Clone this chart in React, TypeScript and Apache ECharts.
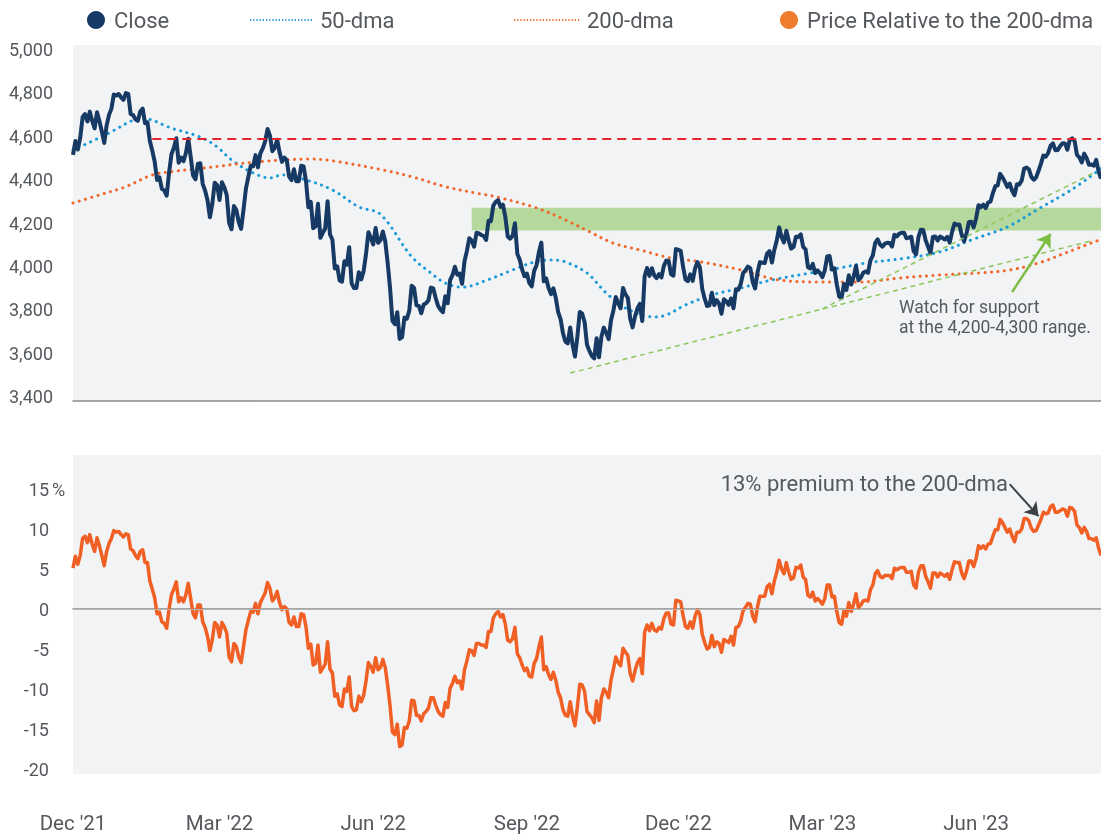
import React, { useEffect, useRef } from "react";
import * as echarts from "echarts";

// ---------- calendar ----------
const HOLIDAYS = [
  "2021-12-24", "2022-01-17", "2022-02-21", "2022-04-15", "2022-05-30", "2022-06-20",
  "2022-07-04", "2022-09-05", "2022-11-24", "2022-12-26", "2023-01-02", "2023-01-16",
  "2023-02-20", "2023-04-07", "2023-05-29", "2023-06-19", "2023-07-04",
];
const LAST_DATE = "2023-08-16";
const MONTHS = [
  "2021-12", "2022-01", "2022-02", "2022-03", "2022-04", "2022-05", "2022-06", "2022-07",
  "2022-08", "2022-09", "2022-10", "2022-11", "2022-12", "2023-01", "2023-02", "2023-03",
  "2023-04", "2023-05", "2023-06", "2023-07", "2023-08",
];
const MONTH_NAMES = ["Jan", "Feb", "Mar", "Apr", "May", "Jun", "Jul", "Aug", "Sep", "Oct", "Nov", "Dec"];
const LABEL_MONTHS = [12, 3, 6, 9];

// ---------- daily close (one array per month, trading days in order) ----------
const close_2021_12 = [4513, 4577, 4538, 4592, 4686, 4701, 4667, 4712, 4669, 4635, 4709, 4669, 4621, 4568, 4649, 4697, 4726, 4791, 4786, 4793, 4778, 4766];
const close_2022_01 = [4797, 4794, 4701, 4696, 4677, 4670, 4713, 4726, 4659, 4663, 4577, 4533, 4483, 4398, 4410, 4357, 4350, 4326, 4432, 4516];
const close_2022_02 = [4546, 4590, 4477, 4501, 4484, 4522, 4587, 4504, 4419, 4401, 4472, 4475, 4380, 4349, 4305, 4226, 4288, 4385, 4374];
const close_2022_03 = [4306, 4387, 4364, 4329, 4201, 4171, 4278, 4260, 4204, 4173, 4262, 4358, 4412, 4463, 4461, 4512, 4456, 4520, 4543, 4575, 4632, 4602, 4530];
const close_2022_04 = [4546, 4583, 4525, 4481, 4501, 4488, 4413, 4397, 4447, 4392, 4392, 4463, 4460, 4394, 4272, 4297, 4176, 4184, 4288, 4132];
const close_2022_05 = [4155, 4175, 4300, 4147, 4123, 3991, 4001, 3936, 3930, 4024, 4008, 4089, 3924, 3901, 3901, 3974, 3941, 3979, 4058, 4158, 4132];
const close_2022_06 = [4101, 4177, 4109, 4121, 4161, 4116, 4018, 3901, 3750, 3735, 3790, 3667, 3675, 3765, 3760, 3796, 3912, 3901, 3822, 3819, 3785];
const close_2022_07 = [3825, 3831, 3845, 3903, 3899, 3855, 3819, 3802, 3790, 3863, 3831, 3937, 3960, 3999, 3962, 3967, 3921, 4024, 4072, 4130];
const close_2022_08 = [4119, 4091, 4155, 4152, 4145, 4140, 4122, 4210, 4208, 4280, 4297, 4305, 4274, 4284, 4228, 4138, 4128, 4141, 4199, 4058, 4031, 3986, 3955];
const close_2022_09 = [3967, 3924, 3909, 3980, 4006, 4067, 4110, 3932, 3946, 3901, 3873, 3900, 3856, 3790, 3758, 3693, 3655, 3647, 3720, 3640, 3586];
const close_2022_10 = [3678, 3791, 3783, 3745, 3640, 3612, 3589, 3577, 3670, 3583, 3677, 3719, 3695, 3666, 3753, 3798, 3860, 3830, 3808, 3901, 3872];
const close_2022_11 = [3856, 3760, 3720, 3771, 3807, 3828, 3749, 3956, 3993, 3957, 3992, 3959, 3947, 3965, 3950, 4003, 4027, 4026, 3964, 3958, 4080];
const close_2022_12 = [4077, 4072, 3999, 3941, 3933, 3964, 3934, 3991, 4020, 3996, 3896, 3852, 3818, 3821, 3879, 3823, 3845, 3829, 3783, 3849, 3840];
const close_2023_01 = [3824, 3853, 3808, 3895, 3893, 3919, 3970, 3983, 3999, 3991, 3929, 3899, 3973, 4020, 4017, 4016, 4060, 4071, 4018, 4077];
const close_2023_02 = [4119, 4180, 4136, 4111, 4164, 4118, 4082, 4090, 4137, 4136, 4148, 4090, 4079, 3997, 3991, 4012, 3970, 3982, 3970];
const close_2023_03 = [3951, 3982, 4046, 4048, 3986, 3992, 3918, 3862, 3855, 3920, 3892, 3960, 3917, 3952, 4003, 3937, 3949, 3971, 3977, 3971, 4028, 4051, 4109];
const close_2023_04 = [4125, 4101, 4091, 4105, 4109, 4108, 4092, 4146, 4138, 4151, 4155, 4155, 4130, 4133, 4137, 4071, 4056, 4135, 4169];
const close_2023_05 = [4168, 4120, 4091, 4061, 4136, 4138, 4119, 4138, 4131, 4124, 4136, 4110, 4159, 4198, 4192, 4193, 4146, 4116, 4151, 4205, 4206, 4180];
const close_2023_06 = [4221, 4282, 4273, 4284, 4268, 4294, 4299, 4338, 4369, 4373, 4426, 4410, 4389, 4366, 4381, 4348, 4328, 4378, 4377, 4396, 4450];
const close_2023_07 = [4455, 4447, 4412, 4399, 4410, 4440, 4473, 4510, 4505, 4522, 4555, 4566, 4535, 4536, 4554, 4567, 4566, 4537, 4582, 4589];
const close_2023_08 = [4577, 4513, 4502, 4478, 4519, 4499, 4468, 4469, 4464, 4490, 4437, 4404];

// ---------- price relative to the 200-dma, % (one array per month) ----------
const rel_2021_12 = [5.1, 6.6, 5.6, 6.7, 8.8, 9.1, 8.3, 9.3, 8.1, 7.2, 8.9, 7.9, 6.7, 5.4, 7.2, 8.2, 8.8, 9.8, 9.6, 9.7, 9.3, 9.0];
const rel_2022_01 = [9.4, 9.3, 7.5, 7.3, 6.7, 6.3, 7.2, 7.4, 5.8, 5.8, 3.5, 2.5, 1.4, -0.6, -0.4, -1.6, -1.8, -2.4, 0.0, 1.8];
const rel_2022_02 = [2.5, 3.4, 0.9, 1.4, 0.9, 1.8, 3.2, 1.3, -0.6, -1.1, 0.5, 0.5, -1.6, -2.3, -3.4, -5.2, -3.8, -1.7, -2.0];
const rel_2022_03 = [-3.5, -1.7, -2.2, -3.0, -6.0, -6.6, -4.3, -4.7, -6.0, -6.7, -4.7, -2.6, -1.4, -0.3, -0.4, 0.7, -0.6, 0.8, 1.4, 2.0, 3.3, 2.6, 1.0];
const rel_2022_04 = [1.4, 2.2, 0.8, -0.1, 0.3, 0.0, -1.7, -2.0, -1.0, -2.2, -2.2, -0.6, -0.7, -2.2, -4.9, -4.4, -7.0, -6.8, -4.5, -7.9];
const rel_2022_05 = [-7.4, -6.9, -4.1, -7.5, -8.0, -10.9, -10.6, -12.0, -12.2, -10.0, -10.3, -8.5, -12.2, -12.7, -12.6, -10.9, -11.6, -10.8, -9.0, -6.7, -7.2];
const rel_2022_06 = [-7.9, -6.1, -7.6, -7.3, -6.3, -7.3, -9.5, -12.1, -15.4, -15.7, -14.4, -17.2, -17.0, -14.8, -14.9, -14.0, -11.4, -11.5, -13.3, -13.3, -14.0];
const rel_2022_07 = [-13.1, -12.8, -12.4, -11.1, -11.1, -12.0, -12.8, -13.2, -13.4, -11.7, -12.3, -9.9, -9.3, -8.4, -9.2, -9.0, -10.0, -7.6, -6.5, -5.1];
const rel_2022_08 = [-5.2, -5.8, -4.3, -4.3, -4.5, -4.5, -4.8, -2.8, -2.8, -1.1, -0.6, -0.3, -1.0, -0.7, -1.9, -3.9, -4.1, -3.7, -2.3, -5.6, -6.1, -7.0, -7.7];
const rel_2022_09 = [-7.4, -8.4, -8.5, -6.8, -6.2, -4.7, -3.5, -7.6, -7.2, -8.2, -8.8, -7.9, -8.9, -10.4, -11.1, -12.6, -13.3, -13.4, -11.6, -13.4, -14.6];
const rel_2022_10 = [-12.2, -9.4, -9.5, -10.3, -12.8, -13.2, -13.6, -14.2, -11.5, -13.9, -11.1, -10.0, -10.4, -11.1, -8.9, -7.5, -6.0, -6.7, -7.1, -4.9, -5.4];
const rel_2022_11 = [-5.8, -8.1, -9.0, -7.7, -6.7, -6.2, -8.1, -2.9, -2.0, -2.7, -1.8, -2.6, -2.8, -2.3, -2.5, -1.2, -0.5, -0.5, -1.9, -2.0, 1.1];
const rel_2022_12 = [1.0, 0.9, -0.8, -2.2, -2.4, -1.6, -2.4, -0.9, -0.1, -0.7, -3.2, -4.2, -5.0, -4.8, -3.3, -4.7, -4.1, -4.3, -5.4, -3.8, -4.0];
const rel_2023_01 = [-4.2, -3.4, -4.5, -2.3, -2.2, -1.5, -0.2, 0.2, 0.7, 0.6, -0.9, -1.6, 0.3, 1.6, 1.6, 1.6, 2.8, 3.1, 1.9, 3.5];
const rel_2023_02 = [4.6, 6.1, 5.0, 4.4, 5.8, 4.6, 3.7, 3.9, 5.2, 5.1, 5.5, 4.0, 3.7, 1.7, 1.5, 2.1, 1.0, 1.3, 1.0];
const rel_2023_03 = [0.6, 1.3, 3.0, 3.0, 1.5, 1.6, -0.3, -1.7, -1.9, -0.2, -0.9, 0.8, -0.3, 0.6, 1.9, 0.2, 0.5, 1.0, 1.1, 1.0, 2.4, 3.0, 4.4];
const rel_2023_04 = [4.8, 4.1, 3.9, 4.2, 4.2, 4.2, 3.8, 5.1, 4.9, 5.1, 5.2, 5.2, 4.6, 4.6, 4.7, 3.0, 2.6, 4.6, 5.4];
const rel_2023_05 = [5.4, 4.1, 3.4, 2.6, 4.5, 4.5, 4.0, 4.5, 4.3, 4.1, 4.4, 3.7, 4.9, 5.9, 5.8, 5.8, 4.5, 3.8, 4.7, 6.0, 6.0, 5.3];
const rel_2023_06 = [6.3, 7.9, 7.6, 7.9, 7.5, 8.1, 8.2, 9.1, 9.9, 9.9, 11.2, 10.8, 10.2, 9.6, 10.0, 9.1, 8.4, 9.6, 9.6, 10.0, 11.3];
const rel_2023_07 = [11.3, 11.0, 10.1, 9.7, 9.8, 10.5, 11.2, 12.1, 11.9, 12.0, 12.8, 13.0, 12.1, 12.1, 12.3, 12.5, 12.4, 11.6, 12.7, 12.6];
const rel_2023_08 = [12.2, 10.5, 10.2, 9.5, 10.2, 9.7, 8.8, 8.8, 8.6, 8.9, 7.6, 6.7];

const CLOSE_BY_MONTH = [
  close_2021_12, close_2022_01, close_2022_02, close_2022_03, close_2022_04, close_2022_05, close_2022_06,
  close_2022_07, close_2022_08, close_2022_09, close_2022_10, close_2022_11, close_2022_12, close_2023_01,
  close_2023_02, close_2023_03, close_2023_04, close_2023_05, close_2023_06, close_2023_07, close_2023_08,
];
const REL_BY_MONTH = [
  rel_2021_12, rel_2022_01, rel_2022_02, rel_2022_03, rel_2022_04, rel_2022_05, rel_2022_06,
  rel_2022_07, rel_2022_08, rel_2022_09, rel_2022_10, rel_2022_11, rel_2022_12, rel_2023_01,
  rel_2023_02, rel_2023_03, rel_2023_04, rel_2023_05, rel_2023_06, rel_2023_07, rel_2023_08,
];

// ---------- moving averages ----------
const DMA50: [string, number][] = [
  ["2021-12-01", 4535], ["2021-12-22", 4614], ["2022-01-06", 4673], ["2022-01-12", 4681],
  ["2022-01-31", 4636], ["2022-02-16", 4595], ["2022-02-28", 4550], ["2022-03-08", 4490],
  ["2022-03-21", 4430], ["2022-03-30", 4407], ["2022-04-06", 4421], ["2022-04-21", 4398],
  ["2022-05-06", 4352], ["2022-05-23", 4274], ["2022-06-06", 4240], ["2022-06-24", 4045],
  ["2022-07-07", 3970], ["2022-07-15", 3924], ["2022-07-26", 3905], ["2022-08-10", 3940],
  ["2022-08-24", 3984], ["2022-09-07", 4020], ["2022-09-19", 4030], ["2022-09-26", 4021],
  ["2022-10-07", 3970], ["2022-10-19", 3878], ["2022-10-31", 3809], ["2022-11-16", 3768],
  ["2022-11-23", 3777], ["2022-12-06", 3823], ["2022-12-21", 3869], ["2023-01-10", 3901],
  ["2023-01-30", 3938], ["2023-02-22", 3970], ["2023-03-10", 3993], ["2023-03-27", 4016],
  ["2023-04-20", 4039], ["2023-05-10", 4067], ["2023-05-30", 4122], ["2023-06-21", 4182],
  ["2023-07-11", 4265], ["2023-07-31", 4355], ["2023-08-16", 4450],
];
const DMA200: [string, number][] = [
  ["2021-12-01", 4292], ["2021-12-16", 4329], ["2022-01-03", 4367], ["2022-01-19", 4421],
  ["2022-01-31", 4436], ["2022-02-16", 4451], ["2022-03-24", 4482], ["2022-04-25", 4494],
  ["2022-05-06", 4486], ["2022-06-06", 4446], ["2022-06-24", 4413], ["2022-07-15", 4367],
  ["2022-08-05", 4333], ["2022-08-15", 4321], ["2022-09-08", 4269], ["2022-09-26", 4214],
  ["2022-10-10", 4160], ["2022-10-24", 4107], ["2022-11-08", 4076], ["2022-11-28", 4039],
  ["2022-12-14", 4022], ["2023-01-10", 3984], ["2023-02-02", 3938], ["2023-02-28", 3929],
  ["2023-03-23", 3929], ["2023-04-17", 3947], ["2023-05-10", 3961], ["2023-06-02", 3970],
  ["2023-06-22", 3984], ["2023-07-11", 4016], ["2023-07-28", 4070], ["2023-08-16", 4125],
];

// ---------- annotations (data units) ----------
const RESISTANCE_LEVEL = 4589;
const RESISTANCE_FROM = "2022-01-19";
const SUPPORT_BAND = { from: "2022-08-01", low: 4165, high: 4270 };
const TREND_LOW: [string, number][] = [["2022-09-28", 3510], ["2023-08-11", 4121]];
const TREND_HIGH: [string, number][] = [["2023-03-01", 3805], ["2023-08-11", 4431]];
const SUPPORT_ARROW: [string, number][] = [["2023-06-23", 3883], ["2023-07-18", 4150]];
const PREMIUM_ARROW: [string, number][] = [["2023-06-22", 15.6], ["2023-07-11", 11.6]];

const PRICE_TICKS = [3400, 3600, 3800, 4000, 4200, 4400, 4600, 4800, 5000];
const REL_TICKS = [-20, -15, -10, -5, 0, 5, 10, 15];

// ---------- build ----------
function tradingDaysOf(month: string): string[] {
  const [y, m] = month.split("-").map(Number);
  const out: string[] = [];
  for (let d = 1; d <= 31; d++) {
    const dt = new Date(Date.UTC(y, m - 1, d));
    if (dt.getUTCMonth() !== m - 1) break;
    const wd = dt.getUTCDay();
    if (wd === 0 || wd === 6) continue;
    const s = dt.toISOString().slice(0, 10);
    if (HOLIDAYS.includes(s)) continue;
    if (s > LAST_DATE) break;
    out.push(s);
  }
  return out;
}

const DATES: string[] = [];
const CLOSE: number[] = [];
const REL: number[] = [];
MONTHS.forEach((mo, k) => {
  const days = tradingDaysOf(mo);
  const c = CLOSE_BY_MONTH[k];
  const r = REL_BY_MONTH[k];
  const n = Math.min(days.length, c.length);
  for (let i = 0; i < n; i++) {
    DATES.push(days[i]);
    CLOSE.push(c[i]);
    REL.push(r[i]);
  }
});

function at(date: string): number {
  const i = DATES.findIndex((d) => d >= date);
  return i < 0 ? DATES.length - 1 : i;
}
const pts = (arr: [string, number][]) => arr.map(([d, v]) => [at(d), v]);

const FONT = 'Roboto, "Noto Sans", sans-serif';
const TXT = "#55595d";
const NAVY = "#163a63";
const BLUE = "#1b9ad8";
const ORANGE = "#f05f24";
const AXIS = "#8c8c8c";
const BG = "#f2f3f5";

function isLabelDay(index: number, value: string): boolean {
  const m = Number(value.slice(5, 7));
  if (!LABEL_MONTHS.includes(m)) return false;
  return index === 0 || DATES[index - 1].slice(5, 7) !== value.slice(5, 7);
}
function fmtMonth(value: string): string {
  return `${MONTH_NAMES[Number(value.slice(5, 7)) - 1]} '${value.slice(2, 4)}`;
}

export default function App() {
  const ref = useRef<HTMLDivElement>(null);
  useEffect(() => {
    if (!ref.current) return;
    const chart = echarts.init(ref.current, undefined, { renderer: "svg" });
    const last = DATES.length - 1;
    const dotted = (color: string) => ({ color, width: 3, type: [0.1, 6.4], cap: "round" as const });
    const legendText = (x: number, text: string) => ({
      type: "text", x, y: 20,
      style: { text, fill: TXT, fontSize: 22, fontFamily: FONT, verticalAlign: "middle", align: "left" },
    });

    const option: any = {
      animation: false,
      textStyle: { fontFamily: FONT },
      grid: [
        { left: 73, right: 0, top: 45, height: 356, show: true, backgroundColor: BG, borderWidth: 0 },
        { left: 73, right: 0, top: 455, height: 319, show: true, backgroundColor: BG, borderWidth: 0 },
      ],
      xAxis: [
        {
          type: "category", gridIndex: 0, data: DATES, boundaryGap: false,
          axisLine: { lineStyle: { color: AXIS, width: 1.5 } },
          axisTick: { show: false }, axisLabel: { show: false }, splitLine: { show: false },
        },
        {
          type: "category", gridIndex: 1, data: DATES, boundaryGap: false,
          axisLine: { lineStyle: { color: AXIS, width: 1.5 } },
          axisTick: { show: false }, splitLine: { show: false },
          axisLabel: {
            interval: (i: number, v: string) => isLabelDay(i, v),
            formatter: (v: string) => fmtMonth(v),
            fontSize: 20.5, color: TXT, margin: 38, fontFamily: FONT,
          },
        },
      ],
      yAxis: [
        {
          type: "value", gridIndex: 0, min: 3381.6, max: 5018.4,
          axisLine: { show: false }, axisTick: { show: false }, splitLine: { show: false },
          axisLabel: {
            customValues: PRICE_TICKS,
            formatter: (v: number) => v.toLocaleString("en-US"),
            fontSize: 18, color: TXT, margin: 20, fontFamily: FONT,
          },
        },
        {
          type: "value", gridIndex: 1, min: -20.625, max: 19.25,
          axisLine: { show: false }, axisTick: { show: false }, splitLine: { show: false },
          axisLabel: {
            customValues: REL_TICKS,
            formatter: (v: number) => String(v),
            fontSize: 18, color: TXT, margin: 24, fontFamily: FONT,
          },
        },
      ],
      series: [
        {
          name: "support band", type: "line", xAxisIndex: 0, yAxisIndex: 0, data: [], z: 1,
          markArea: {
            silent: true, itemStyle: { color: "#b5d99c" },
            data: [[{ xAxis: at(SUPPORT_BAND.from), yAxis: SUPPORT_BAND.low }, { xAxis: last, yAxis: SUPPORT_BAND.high }]],
          },
        },
        {
          name: "trend lines", type: "line", xAxisIndex: 0, yAxisIndex: 0, data: [], z: 2,
          markLine: {
            silent: true, symbol: ["none", "none"], label: { show: false },
            data: [
              [
                { coord: [at(TREND_LOW[0][0]), TREND_LOW[0][1]], lineStyle: { color: "#8cc65a", width: 1.5, type: [5, 4] } },
                { coord: [at(TREND_LOW[1][0]), TREND_LOW[1][1]] },
              ],
              [
                { coord: [at(TREND_HIGH[0][0]), TREND_HIGH[0][1]], lineStyle: { color: "#8cc65a", width: 1.5, type: [5, 4] } },
                { coord: [at(TREND_HIGH[1][0]), TREND_HIGH[1][1]] },
              ],
              [
                { coord: [at(RESISTANCE_FROM), RESISTANCE_LEVEL], lineStyle: { color: "#e8232c", width: 2, type: [9, 6] } },
                { coord: [last, RESISTANCE_LEVEL] },
              ],
            ],
          },
        },
        {
          name: "50-dma", type: "line", xAxisIndex: 0, yAxisIndex: 0, data: pts(DMA50), z: 3,
          smooth: 0.35, symbol: "none", lineStyle: dotted(BLUE),
        },
        {
          name: "200-dma", type: "line", xAxisIndex: 0, yAxisIndex: 0, data: pts(DMA200), z: 3,
          smooth: 0.35, symbol: "none", lineStyle: dotted("#f2672b"),
          markLine: {
            silent: true, symbol: ["none", "arrow"], symbolSize: 13, label: { show: false },
            lineStyle: { color: "#7cbd46", width: 2.5, type: "solid" },
            data: [[
              { coord: [at(SUPPORT_ARROW[0][0]), SUPPORT_ARROW[0][1]] },
              { coord: [at(SUPPORT_ARROW[1][0]), SUPPORT_ARROW[1][1]] },
            ]],
          },
        },
        {
          name: "Close", type: "line", xAxisIndex: 0, yAxisIndex: 0, data: CLOSE, z: 4,
          symbol: "none", lineStyle: { color: NAVY, width: 4, join: "round" },
        },
        {
          name: "zero", type: "line", xAxisIndex: 1, yAxisIndex: 1, data: [], z: 1,
          markLine: {
            silent: true, symbol: ["none", "none"], label: { show: false },
            lineStyle: { color: "#b5b5b5", width: 1, type: "solid" },
            data: [{ yAxis: 0 }],
          },
        },
        {
          name: "Price Relative to the 200-dma", type: "line", xAxisIndex: 1, yAxisIndex: 1, data: REL, z: 3,
          symbol: "none", lineStyle: { color: ORANGE, width: 3.5, join: "round" },
          markLine: {
            silent: true, symbol: ["none", "arrow"], symbolSize: 13, label: { show: false },
            lineStyle: { color: "#3d4146", width: 2, type: "solid" },
            data: [[
              { coord: [at(PREMIUM_ARROW[0][0]), PREMIUM_ARROW[0][1]] },
              { coord: [at(PREMIUM_ARROW[1][0]), PREMIUM_ARROW[1][1]] },
            ]],
          },
        },
      ],
      graphic: [
        // legend
        { type: "circle", shape: { cx: 96, cy: 20, r: 9 }, style: { fill: NAVY } },
        legendText(114, "Close"),
        { type: "line", shape: { x1: 250, y1: 20, x2: 312, y2: 20 }, style: { stroke: BLUE, lineWidth: 2, lineDash: [1.2, 2] } },
        legendText(320, "50-dma"),
        { type: "line", shape: { x1: 514, y1: 20, x2: 580, y2: 20 }, style: { stroke: "#f2672b", lineWidth: 2, lineDash: [1.2, 2] } },
        legendText(587, "200-dma"),
        { type: "circle", shape: { cx: 789, cy: 20, r: 9 }, style: { fill: "#ef7d2c" } },
        legendText(807, "Price Relative to the 200-dma"),
        // % on the top tick of the lower axis
        { type: "text", x: 52, y: 489, style: { text: "%", fill: TXT, fontSize: 18, fontFamily: FONT, verticalAlign: "middle", align: "left" } },
        // annotations
        {
          type: "text", x: 899, y: 297, z: 10,
          style: { text: "Watch for support\nat the 4,200-4,300 range.", fill: TXT, fontSize: 17.5, lineHeight: 20, fontFamily: FONT, verticalAlign: "top", align: "left" },
        },
        {
          type: "text", x: 1008, y: 483, z: 10,
          style: { text: "13% premium to the 200-dma", fill: TXT, fontSize: 22, fontFamily: FONT, verticalAlign: "middle", align: "right" },
        },
      ],
    };
    chart.setOption(option);
    return () => chart.dispose();
  }, []);
  return <div ref={ref} style={{ position: "fixed", left: 0, top: 0, width: 1101, height: 838 }} />;
}
